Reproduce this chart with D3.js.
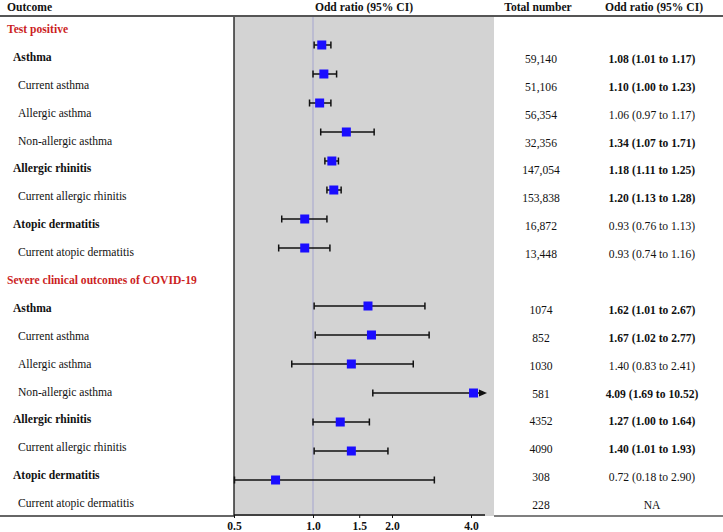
<!DOCTYPE html>
<html>
<head>
<meta charset="utf-8">
<script src="https://cdn.jsdelivr.net/npm/d3@7"></script>
<style>
  body { margin: 0; background: #fff; }
  text { font-family: "Liberation Serif", "Times New Roman", serif; font-size: 11.6px; fill: #111; }
</style>
</head>
<body>
<div id="chart"></div>
<script>
// rows in display order; "section" rows are the red headers
var labels = ["Test positive", "Asthma", "Current asthma", "Allergic asthma", "Non-allergic asthma",
  "Allergic rhinitis", "Current allergic rhinitis", "Atopic dermatitis", "Current atopic dermatitis",
  "Severe clinical outcomes of COVID-19", "Asthma", "Current asthma", "Allergic asthma", "Non-allergic asthma",
  "Allergic rhinitis", "Current allergic rhinitis", "Atopic dermatitis", "Current atopic dermatitis"];
var level = [0, 1, 2, 2, 2, 1, 2, 1, 2, 0, 1, 2, 2, 2, 1, 2, 1, 2];
var totals = ["", "59,140", "51,106", "56,354", "32,356", "147,054", "153,838", "16,872", "13,448",
  "", "1074", "852", "1030", "581", "4352", "4090", "308", "228"];
var est = [null, 1.08, 1.10, 1.06, 1.34, 1.18, 1.20, 0.93, 0.93, null, 1.62, 1.67, 1.40, 4.09, 1.27, 1.40, 0.72, null];
var lower = [null, 1.01, 1.00, 0.97, 1.07, 1.11, 1.13, 0.76, 0.74, null, 1.01, 1.02, 0.83, 1.69, 1.00, 1.01, 0.18, null];
var upper = [null, 1.17, 1.23, 1.17, 1.71, 1.25, 1.28, 1.13, 1.16, null, 2.67, 2.77, 2.41, 10.52, 1.64, 1.93, 2.90, null];
var significant = [0, 1, 1, 0, 1, 1, 1, 0, 0, 0, 1, 1, 0, 1, 1, 1, 0, 0];
var tickValues = [0.5, 1.0, 1.5, 2.0, 4.0];

var width = 723, height = 532;
var svg = d3.select("#chart").append("svg")
  .attr("width", width)
  .attr("height", height);

var x = d3.scaleLog().domain([0.5, 4]).range([234, 471]);
var xMin = 0.5, xMax = x.invert(481);
var yText = d3.scalePoint().domain(d3.range(labels.length)).range([29, 503]);
var yMark = d3.scalePoint().domain(d3.range(labels.length)).range([16, 509]);

// grey panel
svg.append("rect")
  .attr("x", 234).attr("y", 16)
  .attr("width", 260).attr("height", 500)
  .attr("fill", "#d3d3d3");
svg.append("line")
  .attr("x1", 234).attr("x2", 234).attr("y1", 16).attr("y2", 516)
  .attr("stroke", "#111").attr("stroke-width", 1.3);
// reference line at 1
svg.append("line")
  .attr("x1", x(1)).attr("x2", x(1)).attr("y1", 16).attr("y2", 515)
  .attr("stroke", "#a5a5cf").attr("stroke-width", 1);

// header
var header = svg.append("g");
header.append("text").attr("x", 7).attr("y", 11).attr("font-weight", "bold").text("Outcome");
header.append("text").attr("x", 364).attr("y", 11).attr("text-anchor", "middle").attr("font-weight", "bold").text("Odd ratio (95% CI)");
header.append("text").attr("x", 538).attr("y", 11).attr("text-anchor", "middle").attr("font-weight", "bold").text("Total number");
header.append("text").attr("x", 654).attr("y", 11).attr("text-anchor", "middle").attr("font-weight", "bold").text("Odd ratio (95% CI)");
svg.append("line")
  .attr("x1", 0).attr("x2", width).attr("y1", 16).attr("y2", 16)
  .attr("stroke", "#555").attr("stroke-width", 2);

// bottom rule with axis
svg.append("line").attr("x1", 0).attr("x2", 234).attr("y1", 516).attr("y2", 516)
  .attr("stroke", "#333").attr("stroke-width", 1.3);
svg.append("line").attr("x1", 494).attr("x2", width).attr("y1", 516).attr("y2", 516)
  .attr("stroke", "#555").attr("stroke-width", 1.5);

var axis = svg.append("g")
  .attr("transform", "translate(0,515)")
  .call(d3.axisBottom(x).tickValues(tickValues).tickFormat(d3.format(".1f")).tickSize(3).tickSizeOuter(0));
axis.select(".domain").attr("d", "M234,0H485").attr("stroke", "#111").attr("stroke-width", 1.3);
axis.selectAll(".tick line").attr("stroke", "#111");
axis.selectAll(".tick text")
  .attr("y", 7)
  .attr("font-family", "Liberation Serif, serif")
  .attr("font-size", 11.6)
  .attr("font-weight", "bold")
  .attr("fill", "#111");

// labels
var rows = d3.range(labels.length);
svg.append("g").selectAll("text")
  .data(rows)
  .enter()
  .append("text")
    .attr("x", function(i) { return level[i] == 0 ? 7 : level[i] == 1 ? 13 : 18; })
    .attr("y", function(i) { return yText(i); })
    .attr("dy", "0.35em")
    .attr("font-weight", function(i) { return level[i] < 2 ? "bold" : "normal"; })
    .style("fill", function(i) { return level[i] == 0 ? "#cc1f1f" : "#111"; })
    .text(function(i) { return labels[i]; });

svg.append("g").selectAll("text")
  .data(rows.filter(function(i) { return level[i] > 0; }))
  .enter()
  .append("text")
    .attr("x", 541)
    .attr("y", function(i) { return yText(i) + 2; })
    .attr("dy", "0.35em")
    .attr("text-anchor", "middle")
    .text(function(i) { return totals[i]; });

svg.append("g").selectAll("text")
  .data(rows.filter(function(i) { return level[i] > 0; }))
  .enter()
  .append("text")
    .attr("x", 652)
    .attr("y", function(i) { return yText(i) + 2; })
    .attr("dy", "0.35em")
    .attr("text-anchor", "middle")
    .attr("font-weight", function(i) { return significant[i] ? "bold" : "normal"; })
    .text(function(i) {
      if (est[i] == null) return "NA";
      var f = d3.format(".2f");
      return f(est[i]) + " (" + f(lower[i]) + " to " + f(upper[i]) + ")";
    });

// error bars
var plotted = rows.filter(function(i) { return est[i] != null; });
var bars = svg.append("g").selectAll("g")
  .data(plotted)
  .enter()
  .append("g");

bars.append("line")
  .attr("x1", function(i) { return x(Math.max(lower[i], xMin)); })
  .attr("x2", function(i) { return x(Math.min(upper[i], xMax)); })
  .attr("y1", function(i) { return yMark(i); })
  .attr("y2", function(i) { return yMark(i); })
  .attr("stroke", "#111").attr("stroke-width", 1.5);

// caps (left cap sits on the panel edge when clipped, arrow when clipped on the right)
bars.append("line")
  .attr("x1", function(i) { return x(Math.max(lower[i], xMin)) + (lower[i] < xMin ? 0.5 : 0); })
  .attr("x2", function(i) { return x(Math.max(lower[i], xMin)) + (lower[i] < xMin ? 0.5 : 0); })
  .attr("y1", function(i) { return yMark(i) - 3.5; })
  .attr("y2", function(i) { return yMark(i) + 3.5; })
  .attr("stroke", "#111").attr("stroke-width", 1.5);
bars.filter(function(i) { return upper[i] <= xMax; }).append("line")
  .attr("x1", function(i) { return x(upper[i]); })
  .attr("x2", function(i) { return x(upper[i]); })
  .attr("y1", function(i) { return yMark(i) - 3.5; })
  .attr("y2", function(i) { return yMark(i) + 3.5; })
  .attr("stroke", "#111").attr("stroke-width", 1.5);
bars.filter(function(i) { return upper[i] > xMax; }).append("path")
  .attr("d", function(i) {
    var ax = x(xMax), ay = yMark(i);
    return "M" + (ax - 2) + "," + (ay - 3.5) + "L" + (ax + 6) + "," + ay + "L" + (ax - 2) + "," + (ay + 3.5) + "Z";
  })
  .attr("fill", "#111");

bars.append("rect")
  .attr("x", function(i) { return x(est[i]) - 4.5; })
  .attr("y", function(i) { return yMark(i) - 4.5; })
  .attr("width", 9).attr("height", 9)
  .attr("fill", "#1a0dff");
</script>
</body>
</html>
